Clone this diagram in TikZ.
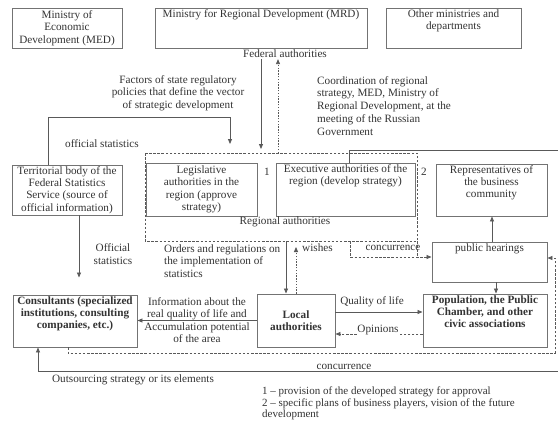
\documentclass[tikz,border=0pt]{standalone}
\usepackage{fontspec}
\setmainfont{Liberation Serif}
\usetikzlibrary{arrows.meta,calc}
\newcommand\dgfont{\fontsize{11.2}{12.4}\selectfont}
\newcommand\lgfont{\fontsize{11}{11.4}\selectfont}
\begin{document}
\begin{tikzpicture}[x=1pt,y=-1pt,
  box/.style={draw=black!55, line width=0.9pt, inner sep=0pt, align=center, font=\dgfont, text=black!80},
  lbl/.style={inner sep=1pt, align=center, font=\dgfont, text=black!80},
  ln/.style={draw=black!65, line width=0.8pt},
  arr/.style={ln, -{Triangle[length=5pt,width=4pt]}},
  dsh/.style={ln, dash pattern=on 2.5pt off 1.6pt},
  dtt/.style={ln, dash pattern=on 1.4pt off 1.4pt},
]
\useasboundingbox[fill=white] (0,0) rectangle (558,423);

% top boxes
\node[box, minimum width=110pt, minimum height=40pt] (med) at (67,28) {Ministry of\\Economic\\Development (MED)};
\node[box, minimum width=212pt, minimum height=40pt] (mrd) at (261,28) {};
\node[lbl, anchor=north, inner sep=1.5pt] (mrdt) at (mrd.north) {Ministry for Regional Development (MRD)};
\node[box, minimum width=135pt, minimum height=40pt] (oth) at (453.5,28) {};
\node[lbl, anchor=north, inner sep=1.5pt] (otht) at (oth.north) {Other ministries and\\departments};
\node[lbl] (fed) at (285,54) {Federal authorities};

\node[lbl] (factors) at (178,93) {Factors of state regulatory\\policies that define the vector\\of strategic development};
\node[lbl, anchor=west, align=left, font=\fontsize{11.2}{12.9}\selectfont] (coord) at (316,106) {Coordination of regional\\strategy, MED, Ministry of\\Regional Development, at the\\meeting of the Russian\\Government};

% middle
\node[box, minimum width=110pt, minimum height=50pt] (terr) at (67,190) {Territorial body of the\\Federal Statistics\\Service (source of\\official information)};
\node[lbl] (offst) at (102,144) {official statistics};

\draw[dsh] (145,153) rectangle (417,241);
\coordinate (reg) at (281,153);
\node[box, minimum width=111pt, minimum height=53pt] (leg) at (201.5,189.5) {Legislative\\authorities in the\\region (approve\\strategy)};
\node[box, minimum width=139pt, minimum height=53pt] (exe) at (345.5,189.5) {};
\node[lbl, anchor=north, inner sep=1.5pt] (exet) at (exe.north) {Executive authorities of the\\region (develop strategy)};
\node[lbl] (one) at (267,172) {1};
\node[lbl] (two) at (424,172) {2};
\node[lbl] (regl) at (285,222) {Regional authorities};

\node[box, minimum width=111pt, minimum height=52pt] (rep) at (491.5,190) {};
\node[lbl, anchor=north, inner sep=1.5pt] (rept) at (rep.north) {Representatives of\\the business\\community};
\node[box, minimum width=115pt, minimum height=40pt] (pub) at (489.5,262) {};
\node[lbl, anchor=north, inner sep=1.5pt] (pubt) at (pub.north) {public hearings};

\node[lbl] (offst2) at (113,254) {Official\\statistics};
\node[lbl, anchor=west, align=left] (orders) at (163,261) {Orders and regulations on\\the implementation of\\statistics};
\node[lbl, anchor=west] (wish) at (301,248) {wishes};
\node[lbl] (conc1) at (393,248) {concurrence};

% bottom boxes
\node[box, minimum width=124pt, minimum height=52pt] (con) at (75,321) {};
\node[lbl, anchor=north, inner sep=1.5pt, font=\dgfont\bfseries] (cont) at (con.north) {Consultants (specialized\\institutions, consulting\\companies, etc.)};
\node[box, minimum width=78pt, minimum height=53pt, font=\dgfont\bfseries] (loc) at (296,320.5) {Local\\authorities};
\node[box, minimum width=124pt, minimum height=53pt] (pop) at (485,320.5) {};
\node[lbl, anchor=north, inner sep=1.5pt, font=\dgfont\bfseries] (popt) at (pop.north) {Population, the Public\\Chamber, and other\\civic associations};

\node[lbl] (info) at (197,320) {Information about the\\real quality of life and\\Accumulation potential\\of the area};
\node[lbl] (qol) at (372,302) {Quality of life};
\node[lbl, fill=white, inner sep=0.5pt] (opin) at (378,330) {Opinions};
\node[lbl] (conc2) at (344,367) {concurrence};
\node[lbl] (outs) at (133,380) {Outsourcing strategy or its elements};

\node[lbl, anchor=north west, align=left, font=\lgfont, inner sep=0pt] (legend) at (262,387) {1 -- provision of the developed strategy for approval\\2 -- specific plans of business players, vision of the future\\development};

% connectors
\coordinate (xa) at (261,0);
\coordinate (xb) at (278,0);
\draw[arr, shorten >=4pt] (fed.south -| xa) -- (reg -| xa);
\draw[dtt, -{Triangle[length=5pt,width=4pt]}] (reg -| xb) -- (fed.south -| xb);

\coordinate (os1) at (48,117);
\coordinate (os2) at (230,117);
\draw[arr, shorten >=9pt] (terr.north -| os1) -- (os1) -- (os2) -- (reg -| os2);

\coordinate (o1) at (349,150);
\coordinate (o2) at (562,150);
\coordinate (o3) at (562,371);
\coordinate (o4) at (38,371);
\draw[arr] (exe.north -| o1) -- (o1) -- (o2) -- (o3) -- (o4) -- (con.south -| o4);

\coordinate (ts) at (79,0);
\draw[arr, shorten >=17pt] (terr.south -| ts) -- (con.north -| ts);

\coordinate (la) at (286,241);
\coordinate (lb) at (296,241);
\draw[arr] (la) -- (loc.north -| la);
\draw[dtt, -{Triangle[length=5pt,width=4pt]}] (loc.north -| lb) -- (296,247);

\coordinate (c1) at (350,241);
\coordinate (c2) at (350,257);
\draw[dsh] (417,241) -- (417,257);
\draw[dsh, -{Triangle[length=5pt,width=4pt]}] (c1) -- (c2) -- (pub.west |- c2);

\draw[arr] (loc.west) -- (con.east |- loc.west);
\coordinate (q1) at (0,312);
\coordinate (q2) at (0,334);
\draw[arr] (loc.east |- q1) -- (pop.west |- q1);
\draw[dsh] (pop.west |- q2) -- (opin.east |- q2);
\draw[dsh, -{Triangle[length=5pt,width=4pt]}] (opin.west |- q2) -- (loc.east |- q2);

\coordinate (p1) at (492,0);
\coordinate (p2) at (496,0);
\draw[arr] (pub.north -| p1) -- (rep.south -| p1);
\draw[arr] (pub.south -| p2) -- (pop.north -| p2);

\coordinate (k1) at (68,353);
\coordinate (k2) at (555,353);
\coordinate (k3) at (555,258);
\draw[dsh, -{Triangle[length=5pt,width=4pt]}] (con.south -| k1) -- (k1) -- (k2) -- (k3) -- (pub.east |- k3);
\end{tikzpicture}
\end{document}
